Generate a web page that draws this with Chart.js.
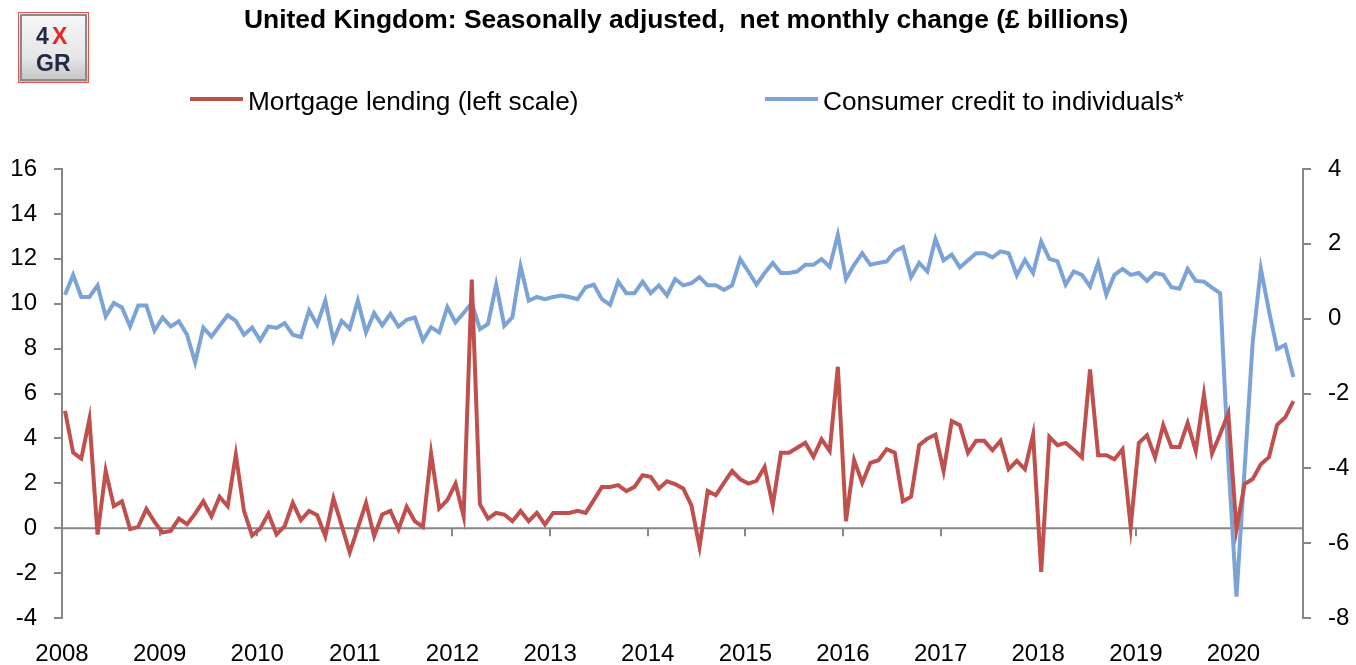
<!DOCTYPE html>
<html>
<head>
<meta charset="utf-8">
<script src="https://cdn.jsdelivr.net/npm/chart.js@4.4.1/dist/chart.umd.min.js"></script>
<style>
  body { margin: 0; background: #fff; }
</style>
</head>
<body>
<canvas id="myChart" width="1356" height="665"></canvas>
<script>
  window.addEventListener('load', setup);

  var chartTitle = 'United Kingdom: Seasonally adjusted,  net monthly change (\u00a3 billions)';
  var yearLabels = ['2008', '2009', '2010', '2011', '2012', '2013', '2014',
                    '2015', '2016', '2017', '2018', '2019', '2020'];

  // net monthly change, £bn, one value per month
  var mortgageLending = [
    5.23, 3.37, 3.10, 4.86, -0.28, 2.55, 0.98, 1.20, -0.04, 0.06, 0.86, 0.28,
    -0.19, -0.12, 0.43, 0.18, 0.65, 1.20, 0.53, 1.40, 0.98, 3.28, 0.77, -0.33,
    -0.01, 0.65, -0.28, 0.09, 1.13, 0.36, 0.77, 0.58, -0.36, 1.32, 0.13, -1.08,
    0.02, 1.13, -0.36, 0.61, 0.77, -0.04, 0.95, 0.31, 0.06, 3.33, 0.88, 1.25,
    1.99, 0.53, 11.08, 1.07, 0.43, 0.68, 0.61, 0.31, 0.77, 0.31, 0.68, 0.16,
    0.68, 0.68, 0.68, 0.77, 0.68, 1.25, 1.84, 1.84, 1.92, 1.65, 1.84, 2.36,
    2.29, 1.77, 2.09, 1.96, 1.77, 1.02, -0.83, 1.66, 1.47, 2.02, 2.55, 2.18,
    1.99, 2.11, 2.73, 1.02, 3.36, 3.36, 3.58, 3.80, 3.18, 3.96, 3.44, 7.19,
    0.31, 3.03, 2.02, 2.91, 3.03, 3.52, 3.36, 1.20, 1.40, 3.70, 3.99, 4.17,
    2.55, 4.77, 4.59, 3.36, 3.89, 3.89, 3.47, 3.89, 2.63, 3.00, 2.63, 4.17,
    -1.95, 4.07, 3.70, 3.80, 3.50, 3.15, 7.07, 3.25, 3.25, 3.07, 3.52, 0.06,
    3.80, 4.14, 3.15, 4.59, 3.62, 3.62, 4.69, 3.44, 5.95, 3.33, 4.20, 5.12,
    -0.05, 1.97, 2.19, 2.85, 3.16, 4.61, 4.94, 5.66
  ];
  var consumerCredit = [
    0.64, 1.17, 0.58, 0.58, 0.89, 0.06, 0.42, 0.30, -0.21, 0.35, 0.35, -0.32,
    0.03, -0.21, -0.07, -0.43, -1.17, -0.24, -0.48, -0.19, 0.09, -0.06, -0.43, -0.24,
    -0.58, -0.21, -0.25, -0.12, -0.43, -0.49, 0.22, -0.16, 0.48, -0.58, -0.06, -0.27,
    0.48, -0.37, 0.15, -0.18, 0.13, -0.21, -0.03, 0.03, -0.58, -0.23, -0.37, 0.31,
    -0.10, 0.15, 0.42, -0.28, -0.14, 0.91, -0.19, 0.04, 1.40, 0.48, 0.58, 0.52,
    0.58, 0.62, 0.58, 0.52, 0.84, 0.91, 0.52, 0.37, 0.99, 0.68, 0.68, 0.99,
    0.68, 0.89, 0.62, 1.06, 0.89, 0.95, 1.11, 0.89, 0.89, 0.77, 0.89, 1.59,
    1.26, 0.91, 1.22, 1.49, 1.22, 1.22, 1.26, 1.44, 1.44, 1.59, 1.38, 2.24,
    1.06, 1.44, 1.75, 1.44, 1.49, 1.53, 1.80, 1.91, 1.11, 1.49, 1.26, 2.13,
    1.56, 1.71, 1.37, 1.56, 1.75, 1.75, 1.64, 1.80, 1.75, 1.16, 1.57, 1.22,
    2.06, 1.60, 1.53, 0.91, 1.26, 1.17, 0.86, 1.49, 0.64, 1.17, 1.33, 1.17,
    1.22, 1.01, 1.22, 1.17, 0.84, 0.80, 1.33, 1.01, 0.99, 0.83, 0.68, -3.80,
    -7.43, -4.03, -0.62, 1.33, 0.20, -0.81, -0.70, -1.56
  ];

  var RED = '#C0504D';
  var BLUE = '#7BA3D5';
  var AXIS = '#878787';
  var FONT = "'Liberation Sans', Arial, sans-serif";
  // the date axis starts a few days before the first monthly point
  var X_MIN = -0.37;
  var X_MAX = 152.18;

  var myChart;

  function toPoints(values) {
    var pts = [];
    for (var i = 0; i < values.length; ++i) {
      pts.push({ x: i, y: values[i] });
    }
    return pts;
  }

  // zero line of the left scale, with the year tick marks hanging off it
  var zeroLine = {
    id: 'zeroLine',
    beforeDatasetsDraw(chart) {
      const ctx = chart.ctx;
      const x = chart.scales.x;
      const y0 = chart.scales.y.getPixelForValue(0);
      const area = chart.chartArea;
      ctx.save();
      ctx.strokeStyle = AXIS;
      ctx.lineWidth = 2;
      ctx.beginPath();
      ctx.moveTo(area.left, y0);
      ctx.lineTo(area.right, y0);
      x.ticks.forEach(function (t) {
        const px = Math.round(x.getPixelForValue(t.value));
        ctx.moveTo(px, y0);
        ctx.lineTo(px, y0 + 8);
      });
      ctx.stroke();
      ctx.restore();
    }
  };

  // logo, title and legend
  var header = {
    id: 'header',
    afterDraw(chart) {
      const ctx = chart.ctx;
      ctx.save();

      // 4X GR badge
      const g = ctx.createLinearGradient(0, 13, 0, 81);
      g.addColorStop(0, '#f7f7f7');
      g.addColorStop(0.65, '#e6e6e6');
      g.addColorStop(1, '#c4c4c4');
      ctx.fillStyle = g;
      ctx.fillRect(19, 13, 69, 69);
      ctx.strokeStyle = '#e8534f';
      ctx.lineWidth = 1;
      ctx.strokeRect(18.5, 12.5, 70, 70);
      ctx.strokeStyle = '#8a8a8a';
      ctx.lineWidth = 2;
      ctx.strokeRect(21, 15, 65, 65);
      ctx.font = 'bold 23px ' + FONT;
      ctx.textBaseline = 'alphabetic';
      ctx.textAlign = 'left';
      ctx.fillStyle = '#1f2a44';
      ctx.fillText('4', 36, 44);
      ctx.fillStyle = '#e8262a';
      ctx.fillText('X', 52, 44);
      ctx.fillStyle = '#1f2a44';
      ctx.fillText('G', 36, 71);
      ctx.fillText('R', 54, 71);

      // title
      ctx.font = 'bold 26.4px ' + FONT;
      ctx.fillStyle = '#000';
      ctx.textAlign = 'left';
      ctx.fillText(chartTitle, 244, 28);

      // legend
      const items = [
        { x: 190, ds: chart.data.datasets[0] },
        { x: 765, ds: chart.data.datasets[1] }
      ];
      ctx.font = '26.2px ' + FONT;
      items.forEach(function (it) {
        ctx.strokeStyle = it.ds.borderColor;
        ctx.lineWidth = 4;
        ctx.beginPath();
        ctx.moveTo(it.x, 99);
        ctx.lineTo(it.x + 53, 99);
        ctx.stroke();
        ctx.fillStyle = '#000';
        ctx.fillText(it.ds.label, it.x + 58, 110);
      });
      ctx.restore();
    }
  };

  function setup() {
    const ctx = document.getElementById('myChart').getContext('2d');
    myChart = new Chart(ctx, {
      type: 'line',
      data: {
        datasets: [
          {
            label: 'Mortgage lending (left scale)',
            data: toPoints(mortgageLending),
            yAxisID: 'y',
            borderColor: RED,
            backgroundColor: RED,
            borderWidth: 4,
            pointRadius: 0,
            tension: 0,
            fill: false
          },
          {
            label: 'Consumer credit to individuals*',
            data: toPoints(consumerCredit),
            yAxisID: 'y2',
            borderColor: BLUE,
            backgroundColor: BLUE,
            borderWidth: 4,
            pointRadius: 0,
            tension: 0,
            fill: false
          }
        ]
      },
      options: {
        responsive: false,
        animation: false,
        layout: { padding: { top: 169, left: 0, right: 0, bottom: 0 } },
        plugins: {
          legend: { display: false },
          title: { display: false },
          tooltip: { enabled: false }
        },
        scales: {
          x: {
            type: 'linear',
            min: X_MIN,
            max: X_MAX,
            afterBuildTicks: function (scale) {
              scale.ticks = yearLabels.map(function (yr, j) { return { value: X_MIN + j * 12 }; });
            },
            afterFit: function (scale) { scale.height = 47; },
            grid: { display: false, drawTicks: false },
            border: { display: false },
            ticks: {
              autoSkip: false,
              maxRotation: 0,
              padding: 22,
              color: '#000',
              font: { family: FONT, size: 24 },
              callback: function (value, index) { return yearLabels[index]; }
            }
          },
          y: {
            position: 'left',
            min: -4,
            max: 16,
            afterFit: function (scale) { scale.width = 62; },
            grid: { drawOnChartArea: false, drawTicks: true, tickLength: 8, color: AXIS, lineWidth: 2 },
            border: { display: true, color: AXIS, width: 2 },
            ticks: { stepSize: 2, padding: 17, color: '#000', font: { family: FONT, size: 24 } }
          },
          y2: {
            position: 'right',
            min: -8,
            max: 4,
            afterFit: function (scale) { scale.width = 53; },
            grid: { drawOnChartArea: false, drawTicks: true, tickLength: 8, color: AXIS, lineWidth: 2 },
            border: { display: true, color: AXIS, width: 2 },
            ticks: { stepSize: 2, padding: 17, color: '#000', font: { family: FONT, size: 24 } }
          }
        }
      },
      plugins: [zeroLine, header]
    });
  }
</script>
</body>
</html>
